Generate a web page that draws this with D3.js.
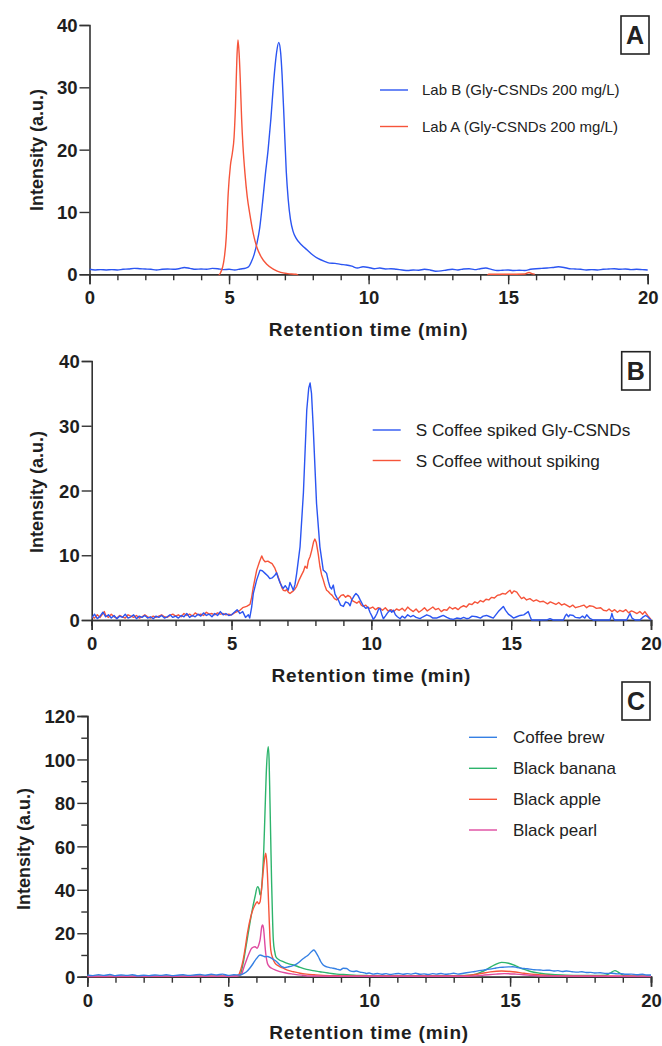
<!DOCTYPE html>
<html><head><meta charset="utf-8">
<script src="https://cdn.jsdelivr.net/npm/d3@7"></script>
<style>
body{margin:0;background:#fff;}
svg{display:block;}
text{font-family:"Liberation Sans",Arial,Helvetica,sans-serif;}
</style></head>
<body>
<svg id="chart" width="662" height="1046"></svg>
<script>
// ---------------- DATA ----------------
const xTicks = [0, 5, 10, 15, 20];
const yTicksA = [0, 10, 20, 30, 40];
const yTicksB = [0, 10, 20, 30, 40];
const yTicksC = [0, 20, 40, 60, 80, 100, 120];

const legendA = ["Lab B (Gly-CSNDs 200 mg/L)", "Lab A (Gly-CSNDs 200 mg/L)"];
const legendB = ["S Coffee spiked Gly-CSNDs", "S Coffee without spiking"];
const legendC = ["Coffee brew", "Black banana", "Black apple", "Black pearl"];

// Panel A: Lab B (blue)
const labB = [[0,0.8],[0.2,0.7],[0.4,0.75],[0.6,0.7],[0.8,0.75],[1.0,0.7],[1.2,0.8],[1.4,0.85],[1.6,0.95],[1.8,0.9],[2.0,0.85],[2.2,0.8],[2.4,0.7],[2.6,0.8],[2.8,0.85],[3.0,0.8],[3.2,0.9],[3.4,1.1],[3.6,0.95],[3.8,0.8],[4.0,0.85],[4.2,0.8],[4.4,0.95],[4.6,0.9],[4.8,0.75],[5.0,0.8],[5.2,0.7],[5.4,0.85],[5.6,1.0],[5.7,1.2],[5.8,2.0],[5.9,3.2],[6.0,5.0],[6.1,7.5],[6.2,11.5],[6.3,16],[6.4,20],[6.5,25],[6.6,31],[6.7,35.5],[6.78,37.2],[6.85,35.5],[6.9,32],[6.97,25],[7.05,16.5],[7.12,12],[7.2,8.8],[7.3,6.8],[7.4,5.8],[7.6,4.7],[7.8,3.9],[8.0,3.1],[8.2,2.5],[8.4,2.1],[8.6,1.8],[8.8,1.75],[9.0,1.6],[9.2,1.5],[9.4,1.3],[9.6,1.0],[9.8,1.2],[10.0,1.1],[10.2,0.9],[10.4,1.0],[10.6,0.85],[10.8,0.9],[11.0,0.8],[11.2,0.7],[11.4,0.6],[11.6,0.7],[11.8,0.65],[12.0,0.8],[12.2,0.7],[12.4,0.5],[12.6,0.55],[12.8,0.7],[13.0,0.8],[13.2,0.7],[13.4,0.85],[13.6,0.9],[13.8,0.75],[14.0,0.9],[14.2,1.0],[14.4,0.8],[14.6,0.6],[14.8,0.65],[15.0,0.7],[15.2,0.6],[15.4,0.65],[15.6,0.6],[15.8,0.8],[16.0,0.9],[16.2,0.95],[16.4,1.0],[16.6,1.1],[16.8,1.2],[17.0,1.1],[17.2,0.9],[17.4,0.85],[17.6,0.8],[17.8,0.7],[18.0,0.75],[18.2,0.7],[18.4,0.8],[18.6,0.85],[18.8,0.9],[19.0,0.8],[19.2,0.85],[19.4,0.75],[19.6,0.8],[19.8,0.75],[20.0,0.7]];
// Panel A: Lab A (red)
const labA = [[4.6,-0.3],[4.7,0.3],[4.8,1.8],[4.9,6],[4.97,13],[5.05,17.5],[5.12,19.5],[5.18,22],[5.23,27],[5.28,34.5],[5.32,37.6],[5.36,35.5],[5.4,31.5],[5.45,25],[5.5,20.5],[5.57,16.2],[5.65,12.5],[5.75,9.5],[5.87,6.5],[6.0,4.3],[6.15,2.8],[6.35,1.6],[6.6,0.8],[6.85,0.3],[7.1,0.1],[7.4,0],[7.6,-0.6],[10,-0.6],[14.2,-0.6],[14.3,0],[15.0,0],[15.6,0.05],[15.75,0.3],[15.85,0.1],[15.95,0]];

// Panel B: spiked (blue)
const spiked = [[0,0.3],[0.1,0.9],[0.2,0.2],[0.3,0.6],[0.4,1.2],[0.5,0.5],[0.6,0.8],[0.7,0.3],[0.8,0.7],[0.9,0.2],[1.0,0.6],[1.1,0.4],[1.2,0.9],[1.3,0.3],[1.4,0.5],[1.5,0.8],[1.6,0.2],[1.7,0.6],[1.8,0.4],[1.9,0.7],[2.0,0.3],[2.1,0.5],[2.2,0.2],[2.3,0.6],[2.4,0.4],[2.5,0.7],[2.6,0.3],[2.7,0.5],[2.8,0.8],[2.9,0.4],[3.0,0.6],[3.1,0.3],[3.2,0.7],[3.3,0.5],[3.4,1.0],[3.5,0.4],[3.6,0.7],[3.7,0.5],[3.8,0.9],[3.9,0.6],[4.0,1.1],[4.1,0.7],[4.2,0.9],[4.3,0.5],[4.4,1.0],[4.5,0.7],[4.6,1.3],[4.7,0.8],[4.8,1.0],[4.9,0.7],[5.0,0.8],[5.1,1.2],[5.2,1.6],[5.3,1.0],[5.4,1.3],[5.5,0.4],[5.6,0.8],[5.65,0.3],[5.72,2.0],[5.78,4.1],[5.9,6.2],[6.02,7.7],[6.1,7.6],[6.2,7.2],[6.3,6.8],[6.37,6.4],[6.45,6.5],[6.55,6.9],[6.61,7.3],[6.67,6.5],[6.73,5.8],[6.8,5.2],[6.85,4.9],[6.92,5.3],[6.97,5.0],[7.03,4.6],[7.09,5.8],[7.15,5.2],[7.21,4.6],[7.27,5.5],[7.33,7.2],[7.45,11.3],[7.57,19.6],[7.69,32.4],[7.76,35.8],[7.81,36.6],[7.86,35],[7.92,29.9],[8.04,18],[8.16,11.3],[8.28,7.7],[8.34,7.5],[8.4,7.2],[8.46,6.0],[8.52,5.1],[8.58,4.8],[8.64,5.4],[8.7,4.0],[8.76,3.5],[8.82,3.1],[8.9,2.3],[9.0,2.1],[9.08,2.8],[9.18,2.6],[9.24,2.2],[9.3,3.1],[9.38,3.7],[9.45,4.1],[9.52,3.8],[9.6,3.1],[9.71,2.2],[9.8,1.8],[9.88,2.0],[9.95,1.2],[10.02,0.6],[10.07,0.1],[10.14,0.5],[10.2,1.0],[10.26,1.7],[10.31,1.8],[10.37,0.9],[10.43,0.2],[10.5,0.6],[10.58,1.1],[10.67,1.5],[10.73,1.2],[10.79,1.5],[10.86,0.8],[10.93,0.5],[11.03,0.2],[11.1,0.6],[11.2,0.3],[11.3,0.8],[11.4,0.5],[11.5,0.7],[11.6,0.4],[11.74,0.2],[11.85,0.5],[11.98,0.8],[12.1,0.6],[12.2,0.3],[12.33,0.3],[12.45,0.5],[12.57,0.7],[12.7,0.4],[12.8,0.2],[12.93,0.1],[13.05,0.3],[13.2,0.2],[13.3,0.4],[13.41,0.2],[13.5,0.3],[13.6,0.6],[13.76,0.5],[13.9,0.3],[14.0,0.6],[14.12,0.7],[14.24,0.5],[14.36,0.3],[14.45,0.8],[14.54,1.3],[14.63,1.7],[14.72,2.1],[14.8,1.5],[14.9,0.9],[15.0,0.6],[15.08,0.3],[15.2,0.5],[15.32,0.7],[15.45,0.8],[15.55,1.1],[15.61,1.3],[15.68,0.5],[15.73,0],[16.0,0],[16.3,0.05],[16.39,0.2],[16.5,0],[16.87,0],[16.93,0.6],[16.98,0.9],[17.05,0.5],[17.1,0.8],[17.22,0.7],[17.3,0.4],[17.46,0.3],[17.55,0.6],[17.63,0.3],[17.7,0.8],[17.8,0.3],[17.93,0],[18.53,0],[18.58,0.6],[18.6,1.0],[18.65,0.3],[18.7,0],[19.13,0],[19.2,0.6],[19.25,1.0],[19.32,0.3],[19.43,0],[19.6,0],[19.7,0.4],[19.8,0.7],[19.88,0.5],[19.95,0.2],[20.0,0]];
// Panel B: without spiking (red)
const unspiked = [[0,0.5],[0.1,0.3],[0.2,0.8],[0.3,0.4],[0.4,1.0],[0.45,1.3],[0.5,0.7],[0.6,0.4],[0.7,0.9],[0.8,0.5],[0.9,0.3],[1.0,0.7],[1.1,0.5],[1.2,0.3],[1.3,0.8],[1.4,0.6],[1.5,0.4],[1.6,0.7],[1.7,0.3],[1.8,0.5],[1.9,0.8],[2.0,0.5],[2.1,0.3],[2.2,0.6],[2.3,0.4],[2.4,0.6],[2.5,0.8],[2.6,0.5],[2.7,0.4],[2.8,0.7],[2.9,0.9],[3.0,0.6],[3.1,0.8],[3.2,0.5],[3.3,1.0],[3.4,0.7],[3.5,0.9],[3.6,0.6],[3.7,1.1],[3.8,0.8],[3.9,0.9],[4.0,0.7],[4.1,1.2],[4.2,0.9],[4.3,1.0],[4.4,0.8],[4.5,1.1],[4.6,0.9],[4.7,1.0],[4.8,0.8],[4.9,0.9],[5.0,0.8],[5.1,1.1],[5.2,1.3],[5.3,1.5],[5.4,1.9],[5.54,2.1],[5.66,2.4],[5.72,3.5],[5.78,5.1],[5.9,7.7],[6.0,9.0],[6.08,9.9],[6.14,9.3],[6.2,9.0],[6.3,9.1],[6.37,8.9],[6.45,8.7],[6.55,8.0],[6.64,7.0],[6.73,5.9],[6.8,5.0],[6.85,4.6],[6.92,4.5],[6.97,4.7],[7.03,4.3],[7.09,4.1],[7.15,4.3],[7.21,4.5],[7.27,4.8],[7.33,5.2],[7.42,6.2],[7.51,7.0],[7.57,7.5],[7.63,8.3],[7.7,8.0],[7.75,9.2],[7.81,9.8],[7.87,10.8],[7.93,12.0],[7.98,12.5],[8.03,12.0],[8.1,10.2],[8.16,8.3],[8.22,7.0],[8.28,6.2],[8.34,5.3],[8.4,4.6],[8.46,4.4],[8.52,4.1],[8.6,3.8],[8.68,3.3],[8.76,3.1],[8.84,3.4],[8.92,3.8],[9.0,3.9],[9.08,3.5],[9.16,3.8],[9.24,3.6],[9.32,3.0],[9.4,2.8],[9.48,2.6],[9.56,2.9],[9.64,2.3],[9.71,2.1],[9.8,2.3],[9.88,1.9],[9.95,1.8],[10.05,2.0],[10.15,1.6],[10.25,1.9],[10.31,1.8],[10.4,1.5],[10.5,1.9],[10.6,1.4],[10.7,1.6],[10.8,1.3],[10.9,1.7],[11.0,1.5],[11.1,1.8],[11.2,1.4],[11.3,2.0],[11.4,1.6],[11.5,1.3],[11.6,1.7],[11.7,1.2],[11.8,1.5],[11.9,1.9],[12.0,1.4],[12.1,1.7],[12.2,2.0],[12.3,1.6],[12.4,1.8],[12.5,1.3],[12.6,1.6],[12.7,1.5],[12.8,2.0],[12.9,1.7],[13.0,1.9],[13.1,1.6],[13.2,2.0],[13.3,2.2],[13.4,2.0],[13.5,2.5],[13.6,2.4],[13.7,2.8],[13.8,2.6],[13.9,3.0],[14.0,2.8],[14.1,3.2],[14.2,3.1],[14.3,3.5],[14.4,3.4],[14.5,3.8],[14.6,3.9],[14.7,4.1],[14.8,4.0],[14.9,4.4],[14.96,4.6],[15.02,4.1],[15.1,4.5],[15.2,4.3],[15.28,3.8],[15.37,3.3],[15.45,3.5],[15.55,3.1],[15.67,3.3],[15.8,2.9],[15.9,3.1],[16.03,2.8],[16.15,2.9],[16.3,2.5],[16.4,2.8],[16.5,2.6],[16.6,2.4],[16.7,2.7],[16.8,2.3],[16.9,2.5],[16.98,2.3],[17.1,2.0],[17.2,2.3],[17.3,1.9],[17.46,2.1],[17.6,2.3],[17.7,1.9],[17.8,2.2],[17.93,2.1],[18.05,1.8],[18.2,1.9],[18.3,1.5],[18.41,1.4],[18.5,1.7],[18.6,1.3],[18.7,1.6],[18.8,1.2],[18.89,1.5],[19.0,1.3],[19.1,1.6],[19.2,1.1],[19.3,1.4],[19.37,1.3],[19.5,1.0],[19.6,1.3],[19.7,0.9],[19.78,1.3],[19.9,0.6],[20.0,0.1]];

// Panel C
const coffeeBrew = [[0,0.8],[0.2,0.5],[0.4,0.9],[0.6,0.6],[0.8,1.0],[1.0,0.5],[1.2,0.8],[1.4,0.6],[1.6,0.9],[1.8,0.4],[2.0,0.7],[2.2,0.5],[2.4,0.8],[2.6,0.6],[2.8,0.9],[3.0,0.5],[3.2,0.7],[3.4,0.9],[3.6,0.6],[3.8,0.8],[4.0,1.0],[4.2,0.7],[4.4,1.1],[4.6,0.8],[4.8,1.2],[5.0,0.6],[5.2,0.9],[5.42,0.8],[5.55,1.5],[5.65,2.3],[5.77,4.0],[5.89,6.2],[6.0,8.3],[6.13,10.0],[6.22,9.6],[6.3,9.2],[6.4,9.3],[6.48,8.9],[6.6,8.0],[6.72,6.9],[6.8,5.8],[6.9,4.6],[7.0,4.2],[7.14,4.6],[7.25,4.9],[7.37,5.4],[7.5,6.5],[7.6,7.7],[7.72,8.9],[7.84,10.0],[7.95,11.5],[8.04,12.3],[8.12,11.0],[8.2,9.2],[8.28,7.0],[8.37,5.4],[8.5,4.5],[8.6,4.2],[8.72,3.9],[8.85,3.5],[8.97,3.1],[9.08,3.9],[9.2,3.8],[9.32,2.7],[9.45,2.4],[9.55,2.6],[9.67,2.1],[9.8,1.9],[9.9,1.5],[10.0,1.7],[10.15,1.2],[10.3,1.5],[10.45,1.1],[10.6,1.4],[10.75,1.0],[10.9,1.3],[11.05,1.5],[11.2,1.1],[11.35,1.4],[11.5,1.2],[11.65,1.6],[11.8,1.1],[11.95,1.3],[12.1,1.0],[12.25,1.4],[12.4,1.2],[12.55,1.5],[12.7,1.1],[12.85,1.3],[13.0,1.6],[13.15,1.2],[13.3,1.5],[13.45,1.8],[13.6,2.1],[13.75,2.4],[13.9,2.8],[14.05,3.0],[14.2,3.4],[14.35,3.6],[14.5,4.0],[14.64,4.3],[14.8,4.4],[14.95,4.5],[15.1,4.6],[15.25,4.2],[15.4,3.9],[15.55,3.7],[15.7,3.5],[15.85,3.2],[16.06,3.1],[16.2,2.9],[16.4,3.0],[16.55,2.6],[16.7,2.8],[16.85,2.4],[17.0,2.6],[17.2,2.3],[17.4,2.1],[17.55,2.3],[17.7,1.9],[17.85,2.0],[18.0,1.7],[18.2,1.8],[18.4,1.5],[18.6,1.6],[18.8,1.3],[18.95,1.4],[19.1,1.1],[19.3,1.2],[19.5,0.9],[19.7,1.1],[19.85,0.8],[20.0,0.8]];
const blackBanana = [[0,0.2],[5.0,0.2],[5.3,0.4],[5.42,0.8],[5.53,6.2],[5.62,13],[5.71,20],[5.83,29.2],[5.95,36.8],[6.04,41.4],[6.09,40.5],[6.13,37.6],[6.18,40],[6.22,47.6],[6.26,58],[6.3,73.7],[6.36,96.7],[6.42,105.9],[6.45,100],[6.48,81.3],[6.51,62],[6.54,43],[6.57,28],[6.6,16.9],[6.65,11.5],[6.69,9.2],[6.8,7.8],[6.95,6.9],[7.1,6.1],[7.31,5.4],[7.55,4.3],[7.78,3.4],[8.0,2.8],[8.25,2.3],[8.55,1.7],[8.85,1.2],[9.2,0.9],[9.56,0.6],[10,0.5],[11,0.4],[12,0.4],[13,0.5],[13.4,0.6],[13.7,0.9],[13.95,2.0],[14.2,3.6],[14.45,5.4],[14.7,6.6],[14.95,6.2],[15.2,5.0],[15.45,3.6],[15.7,2.5],[16.06,1.6],[16.5,1.0],[17,0.7],[17.5,0.6],[18,0.6],[18.4,0.7],[18.55,1.6],[18.72,2.8],[18.85,2.0],[19.0,0.8],[19.1,0.3],[20,0.2]];
const blackApple = [[0,0.1],[5.2,0.2],[5.36,0.7],[5.45,3.5],[5.53,7.7],[5.6,13],[5.68,20],[5.8,27.6],[5.88,31],[5.95,33],[6.03,34.5],[6.08,33.5],[6.13,34.5],[6.19,41.4],[6.27,52.2],[6.33,56.8],[6.36,54],[6.39,47.6],[6.42,38],[6.45,27.6],[6.48,18],[6.51,12.3],[6.58,8.5],[6.66,6.2],[6.8,4.8],[6.95,3.9],[7.1,3.0],[7.31,2.3],[7.55,1.6],[7.78,1.2],[8.05,0.9],[8.37,0.6],[9,0.4],[10,0.3],[12,0.3],[13,0.3],[13.5,0.6],[13.9,1.3],[14.3,2.2],[14.7,2.6],[15.1,2.3],[15.5,1.6],[15.9,1.0],[16.4,0.6],[17,0.4],[18,0.3],[20,0.2]];
const blackPearl = [[0,0.1],[5.3,0.2],[5.48,1.5],[5.56,4.5],[5.65,7.7],[5.75,11],[5.83,13.1],[5.95,13.8],[6.03,13.1],[6.08,14.5],[6.13,16.9],[6.19,23],[6.22,23.8],[6.25,22.5],[6.27,20],[6.3,15],[6.33,10.8],[6.39,6.2],[6.45,4.8],[6.54,3.9],[6.68,3.0],[6.83,2.3],[7.05,1.7],[7.31,1.2],[7.6,0.7],[7.9,0.3],[9,0.2],[13.5,0.2],[14.0,0.6],[14.5,1.2],[14.8,1.4],[15.2,1.2],[15.7,0.7],[16.2,0.3],[20,0.1]];

// ---------------- DRAW ----------------
const svg = d3.select("#chart");
const AX = "#333";
const BLUE = "#2b55f2", RED = "#f6543a";
const CBLUE = "#3580e4", GREEN = "#2db46c", CRED = "#f6543a", PINK = "#df4a9f";

function panel(cfg){
  const g = svg.append("g");
  const x = d3.scaleLinear().domain([0,20]).range([cfg.x0, cfg.x1]);
  const y = d3.scaleLinear().domain([0,cfg.ymax]).range([cfg.y0, cfg.yt]);
  const id = "clip" + cfg.letter;
  svg.append("clipPath").attr("id", id).append("rect")
    .attr("x", cfg.x0).attr("y", cfg.yt - 10).attr("width", cfg.x1 - cfg.x0 + 2).attr("height", cfg.y0 - cfg.yt + 11);

  // minor x ticks
  g.append("g").attr("transform", `translate(0,${cfg.y0})`)
    .call(d3.axisBottom(x).tickValues(d3.range(0,21,1)).tickSize(6).tickFormat(""));
  const xAx = g.append("g").attr("transform", `translate(0,${cfg.y0})`)
    .call(d3.axisBottom(x).tickValues(xTicks).tickSize(10).tickPadding(7).tickFormat(d3.format("d")));
  if (cfg.yMinor){
    g.append("g").attr("transform", `translate(${cfg.x0},0)`)
      .call(d3.axisLeft(y).tickValues(cfg.yMinor).tickSize(6).tickFormat(""));
  }
  const yAx = g.append("g").attr("transform", `translate(${cfg.x0},0)`)
    .call(d3.axisLeft(y).tickValues(cfg.yTicks).tickSize(10).tickPadding(2).tickFormat(d3.format("d")));
  g.selectAll(".domain").attr("stroke", AX).attr("stroke-width", 1.6);
  g.selectAll(".tick line").attr("stroke", AX).attr("stroke-width", 1.4);
  g.selectAll(".tick text").attr("fill", "#1e1e1e").style("font-size", "18.5px").style("font-weight", "bold")
    .style("font-family", '"Liberation Sans", Arial, sans-serif');
  xAx.selectAll(".tick text").attr("dy", "0.71em");
  yAx.selectAll(".tick text").attr("dy", "0.36em");

  // axis titles
  g.append("text").attr("x", (cfg.x0 + cfg.x1)/2).attr("y", cfg.y0 + 62)
    .attr("text-anchor", "middle").style("font-size", "19px").style("font-weight", "bold")
    .style("letter-spacing", "0.8px").attr("fill", "#1e1e1e")
    .text("Retention time (min)");
  g.append("text").attr("transform", `translate(${cfg.ytx},${cfg.ytc}) rotate(-90)`)
    .attr("text-anchor", "middle").style("font-size", "18px").style("font-weight", "bold").attr("fill", "#1e1e1e")
    .text("Intensity (a.u.)");

  // series
  const lines = g.append("g").attr("clip-path", `url(#${id})`);
  cfg.series.forEach(s => {
    const line = d3.line().x(d => x(d[0])).y(d => y(d[1])).curve(cfg.curve);
    lines.append("path").datum(s.data).attr("fill", "none").attr("stroke", s.color)
      .attr("stroke-width", 1.4).attr("stroke-linejoin", "round").attr("d", line);
  });

  // legend
  cfg.legend.forEach((lab, i) => {
    const ly = cfg.legY[i];
    g.append("line").attr("x1", cfg.legX).attr("x2", cfg.legX + 28).attr("y1", ly).attr("y2", ly)
      .attr("stroke", cfg.legColors[i]).attr("stroke-width", 1.4);
    g.append("text").attr("x", cfg.legX + cfg.legGap).attr("y", ly).attr("dy", "0.35em")
      .style("font-size", cfg.legFont + "px").attr("fill", "#222").text(lab);
  });

  // letter box
  const b = cfg.box;
  g.append("rect").attr("x", b[0]).attr("y", b[1]).attr("width", b[2]).attr("height", b[3])
    .attr("fill", "none").attr("stroke", "#222").attr("stroke-width", 1.6);
  g.append("text").attr("x", b[0] + b[2]/2).attr("y", b[1] + b[3]/2).attr("dy", "0.36em")
    .attr("text-anchor", "middle").style("font-size", "25px").style("font-weight", "bold").attr("fill", "#222")
    .text(cfg.letter);
}

panel({letter:"A", x0:89.5, x1:647.7, y0:274.3, yt:25, ymax:40, yTicks:yTicksA,
  ytx:43, ytc:150, curve:d3.curveMonotoneX,
  series:[{data:labB, color:BLUE},{data:labA, color:RED}],
  legend:legendA, legColors:[BLUE, RED], legX:380, legGap:42, legY:[90,126.5], legFont:15,
  box:[621,16,28,38]});

panel({letter:"B", x0:91.7, x1:651, y0:620, yt:361, ymax:40, yTicks:yTicksB,
  ytx:43, ytc:492, curve:d3.curveLinear,
  series:[{data:unspiked, color:RED},{data:spiked, color:BLUE}],
  legend:legendB, legColors:[BLUE, RED], legX:372.7, legGap:43, legY:[430,460.5], legFont:17.2,
  box:[621.7,351.7,28.3,38.3]});

panel({letter:"C", x0:87.3, x1:651, y0:976.7, yt:716, ymax:120, yTicks:yTicksC, yMinor:[10,30,50,70,90,110],
  ytx:30, ytc:849, curve:d3.curveMonotoneX,
  series:[{data:blackBanana, color:GREEN},{data:blackApple, color:CRED},{data:blackPearl, color:PINK},{data:coffeeBrew, color:CBLUE}],
  legend:legendC, legColors:[CBLUE, GREEN, CRED, PINK], legX:469, legGap:44, legY:[737.3,768.3,799.3,830], legFont:17,
  box:[622,682,28,38]});
</script>
</body></html>
